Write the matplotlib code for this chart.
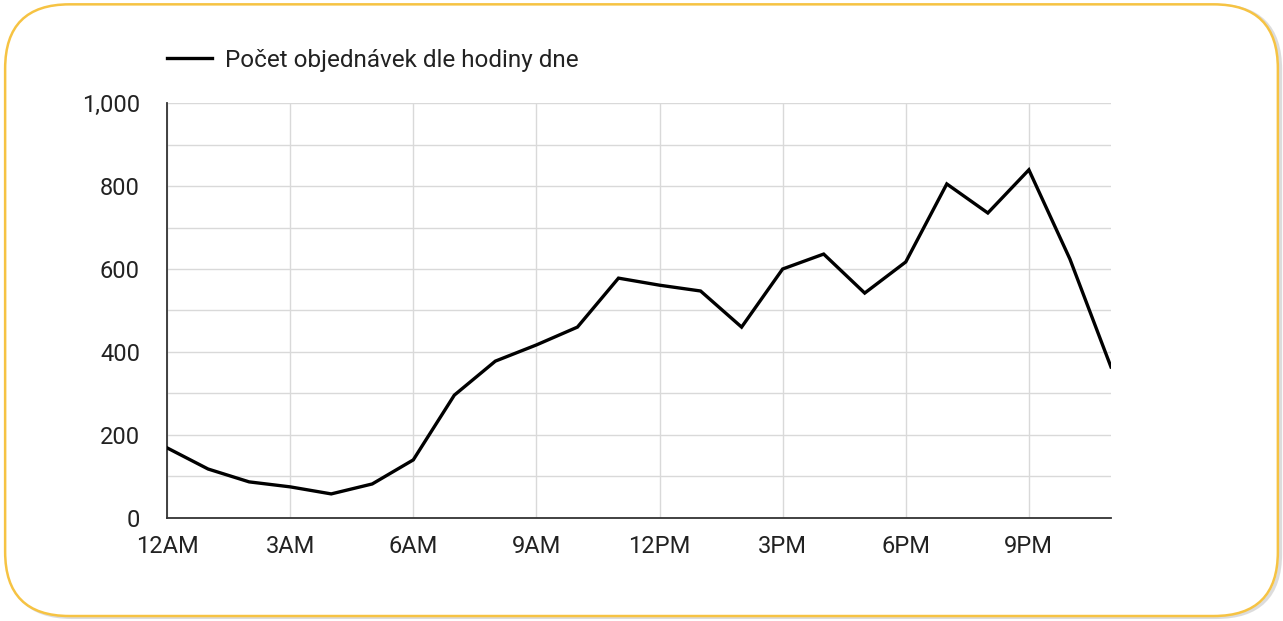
import matplotlib.pyplot as plt
from matplotlib.patches import FancyBboxPatch
from matplotlib.lines import Line2D

plt.rcParams['font.family'] = ['Roboto', 'DejaVu Sans']

# hourly order counts (0 = 12AM ... 23 = 11PM)
hours = list(range(24))
orders = [169, 118, 87, 75, 58, 82, 140, 296, 378, 417, 460, 578,
          561, 547, 460, 600, 636, 542, 617, 805, 735, 839, 624, 364]
tick_hours = [0, 3, 6, 9, 12, 15, 18, 21]
tick_labels = ['12AM', '3AM', '6AM', '9AM', '12PM', '3PM', '6PM', '9PM']
series_name = 'Počet objednávek dle hodiny dne'

fig = plt.figure(figsize=(12.83, 6.21), dpi=100)

# rounded card border with a faint shadow
shadow = FancyBboxPatch((0.006, 0.006), 0.992, 0.985,
                        boxstyle='round,pad=0,rounding_size=0.05',
                        transform=fig.transFigure, facecolor='none',
                        edgecolor='#bbbbbb', linewidth=2.5, alpha=0.5,
                        mutation_aspect=1283 / 621, zorder=-3)
card = FancyBboxPatch((0.004, 0.008), 0.992, 0.985,
                      boxstyle='round,pad=0,rounding_size=0.05',
                      transform=fig.transFigure, facecolor='white',
                      edgecolor='#f6c343', linewidth=1.8,
                      mutation_aspect=1283 / 621, zorder=-2)
fig.patches.extend([shadow, card])

ax = fig.add_axes([0.1302, 0.1659, 0.7357, 0.6682])
ax.patch.set_alpha(0)

ax.plot(hours, orders, color='black', linewidth=2.4, solid_joinstyle='miter',
        label=series_name, zorder=3)

ax.set_xlim(0, 23)
ax.set_ylim(0, 1000)
ax.set_xticks(tick_hours)
ax.set_xticklabels(tick_labels)
ax.set_yticks(range(0, 1001, 200))
ax.set_yticks(range(100, 1000, 200), minor=True)
ax.yaxis.set_major_formatter(lambda v, p: f'{int(v):,}')

ax.grid(True, which='both', axis='y', color='#d9d9d9', linewidth=1.0)
ax.grid(True, which='major', axis='x', color='#d9d9d9', linewidth=1.0)
ax.set_axisbelow(True)

for side in ['top', 'right']:
    ax.spines[side].set_visible(False)
for side in ['left', 'bottom']:
    ax.spines[side].set_color('#333333')
    ax.spines[side].set_linewidth(1.3)

ax.tick_params(axis='both', which='both', length=0, labelsize=17,
               labelcolor='#222222')
ax.tick_params(axis='x', pad=12.5)
ax.tick_params(axis='y', pad=19.5)

handle = Line2D([], [], color='black', linewidth=2.4)
fig.legend([handle], [series_name], loc='center left',
           bbox_to_anchor=(0.130, 0.903), frameon=False, fontsize=17.5,
           handlelength=1.85, handletextpad=0.53, borderpad=0,
           borderaxespad=0, labelcolor='#222222')

fig.savefig('out.png', dpi=100)
